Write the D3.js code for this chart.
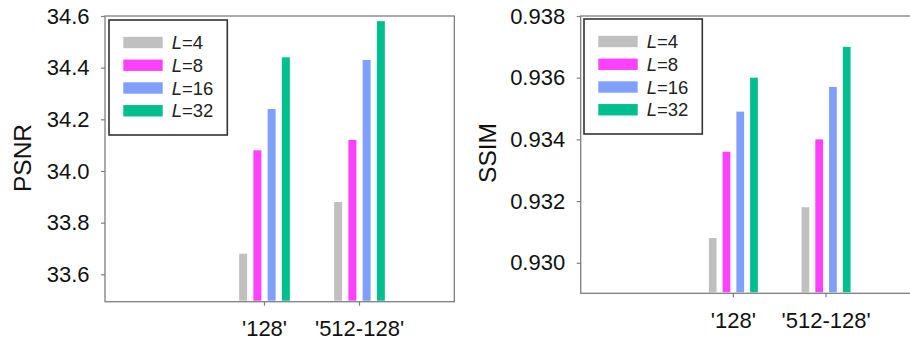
<!DOCTYPE html>
<html>
<head>
<meta charset="utf-8">
<script src="https://cdn.jsdelivr.net/npm/d3@7"></script>
<style>
  body { margin: 0; background: #fff; }
  svg { display: block; font-family: "Liberation Sans", Arial, sans-serif; }
  .frame { fill: none; stroke: #7f7f7f; stroke-width: 1.3; }
  .axis path { display: none; }
  .axis line { stroke: #7f7f7f; stroke-width: 1.2; }
  .axis text { fill: #111; font-size: 22px; }
</style>
</head>
<body>
<svg width="910" height="343"></svg>
<script>
// data
var categories = ["'128'", "'512-128'"];
var seriesL = [4, 8, 16, 32];
var colors = ["#c0c0c0", "#ff40ff", "#80a0ff", "#00bf8f"];
var psnr = [[33.68, 34.08, 34.24, 34.44], [33.88, 34.12, 34.43, 34.58]];
var ssim = [[0.9308, 0.9336, 0.9349, 0.9360], [0.9318, 0.9340, 0.9357, 0.9370]];
var psnrTicks = [33.6, 33.8, 34.0, 34.2, 34.4, 34.6];
var ssimTicks = [0.930, 0.932, 0.934, 0.936, 0.938];

var svg = d3.select("svg");

function drawPanel(p) {
  var g = svg.append("g");

  var y = d3.scaleLinear().domain(p.yDomain).range([p.bottom, p.top]);
  var x = d3.scaleBand().domain(categories).range(p.xRange);
  var xi = d3.scaleBand().domain(seriesL)
      .range([x.bandwidth() / 2 - p.groupW / 2, x.bandwidth() / 2 + p.groupW / 2])
      .paddingInner(0.44);

  // bars
  var grp = g.selectAll(".grp")
    .data(categories)
    .enter().append("g")
      .attr("transform", function(d) { return "translate(" + x(d) + ",0)"; });

  grp.selectAll("rect")
    .data(function(d, i) { return p.values[i]; })
    .enter().append("rect")
      .attr("x", function(d, j) { return xi(seriesL[j]); })
      .attr("width", xi.bandwidth())
      .attr("y", function(d) { return y(d); })
      .attr("height", function(d) { return p.bottom - 1 - y(d); })
      .attr("fill", function(d, j) { return colors[j]; });

  // frame
  g.append("rect").attr("class", "frame")
    .attr("x", p.left).attr("y", p.top)
    .attr("width", p.right - p.left).attr("height", p.bottom - p.top);

  g.append("g").attr("class", "axis")
    .attr("transform", "translate(" + p.left + ",0)")
    .call(d3.axisLeft(y).tickValues(p.ticks).tickSize(4).tickPadding(11.5)
      .tickFormat(p.fmt));

  g.append("g").attr("class", "axis")
    .attr("transform", "translate(0," + p.bottom + ")")
    .call(d3.axisBottom(x).tickSize(4).tickPadding(15));

  g.append("text")
    .attr("transform", "translate(" + p.labelX + "," + p.labelY + ") rotate(-90)")
    .attr("text-anchor", "middle")
    .attr("dy", "0.36em")
    .attr("font-size", 24.5)
    .attr("fill", "#111")
    .text(p.label);

  // legend
  var lg = g.append("g").attr("transform", "translate(" + p.legX + "," + p.legY + ")");
  lg.append("rect")
    .attr("width", 118.3).attr("height", 115)
    .attr("fill", "#fff").attr("stroke", "#333").attr("stroke-width", 1.6);
  var row = lg.selectAll(".row")
    .data(seriesL)
    .enter().append("g")
      .attr("transform", function(d, i) { return "translate(0," + (22.5 + i * 22.75) + ")"; });
  row.append("rect")
    .attr("x", 14.3).attr("y", -5.7)
    .attr("width", 39.4).attr("height", 11.4)
    .attr("fill", function(d, i) { return colors[i]; });
  var t = row.append("text")
    .attr("x", 62.7).attr("dy", "0.36em")
    .attr("font-size", 18.5).attr("fill", "#222");
  t.append("tspan").attr("font-style", "italic").text("L");
  t.append("tspan").text(function(d) { return "=" + d; });
}

drawPanel({
  values: psnr, ticks: psnrTicks, fmt: d3.format(".1f"),
  yDomain: [33.494, 34.6],
  left: 105, right: 454.3, top: 16, bottom: 301.7,
  xRange: [217, 407], groupW: 50.7,
  label: "PSNR", labelX: 22, labelY: 158,
  legX: 109, legY: 20
});

drawPanel({
  values: ssim, ticks: ssimTicks, fmt: d3.format(".3f"),
  yDomain: [0.92901, 0.938],
  left: 580.7, right: 912, top: 16, bottom: 293.3,
  xRange: [687, 872.4], groupW: 49,
  label: "SSIM", labelX: 487, labelY: 153,
  legX: 584, legY: 19
});
</script>
</body>
</html>
